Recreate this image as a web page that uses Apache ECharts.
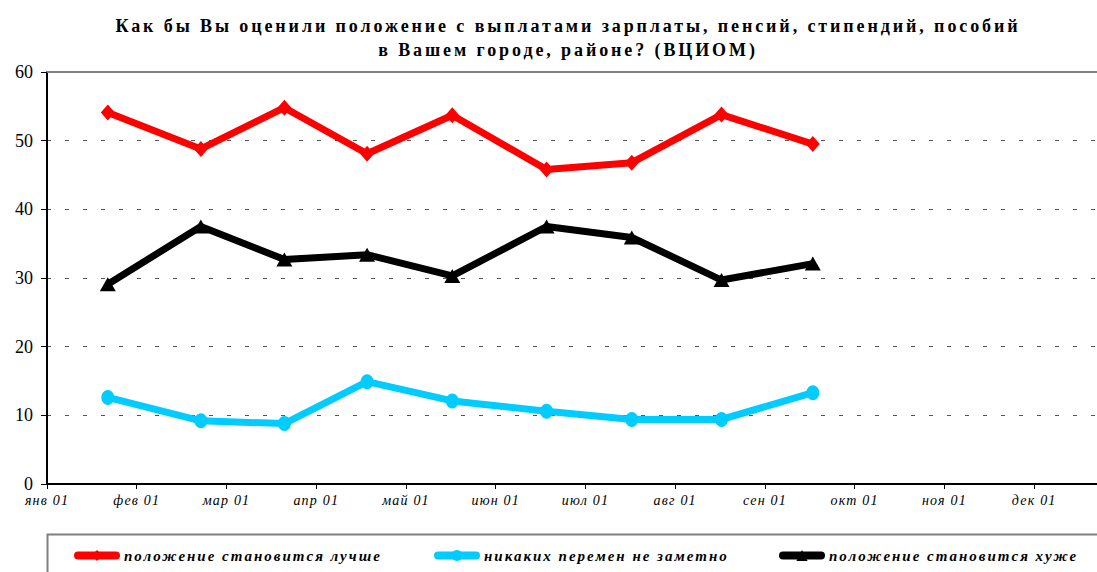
<!DOCTYPE html>
<html>
<head>
<meta charset="utf-8">
<script src="https://cdn.jsdelivr.net/npm/echarts@6/dist/echarts.min.js"></script>
<style>
html,body{margin:0;padding:0;background:#fff;}
#c{width:1097px;height:572px;}
</style>
</head>
<body>
<div id="c"></div>
<script>
// ---- data ----
const TITLE = 'Как бы Вы оценили положение с выплатами зарплаты, пенсий, стипендий, пособий\nв Вашем городе, районе? (ВЦИОМ)';
const MONTH_LABELS = ['янв 01','фев 01','мар 01','апр 01','май 01','июн 01','июл 01','авг 01','сен 01','окт 01','ноя 01','дек 01'];
const Y_TICKS = [0, 10, 20, 30, 40, 50, 60];
const SURVEY_DATES = ['2001-01-22','2001-02-21','2001-03-21','2001-04-18','2001-05-17','2001-06-18','2001-07-17','2001-08-17','2001-09-17'];
const SERIES_NAMES = ['положение становится лучше','никаких перемен не заметно','положение становится хуже'];
const BETTER = [54.1, 48.8, 54.8, 48.1, 53.7, 45.8, 46.8, 53.8, 49.5];
const NO_CHANGE = [12.6, 9.2, 8.8, 14.9, 12.1, 10.6, 9.4, 9.4, 13.3];
const WORSE = [29.1, 37.5, 32.7, 33.4, 30.3, 37.5, 35.9, 29.7, 32.1];

// date -> month-index scale (each month equal width, as on the original axis)
function monthPos(d){
  const [y,m,day] = d.split('-').map(Number);
  const dim = new Date(y, m, 0).getDate();
  return (m-1) + (day-1)/dim;
}
const X = SURVEY_DATES.map(monthPos);
const pairs = vals => vals.map((v,i)=>[X[i], v]);

const SERIF = '"Liberation Serif","Times New Roman",serif';
const chart = echarts.init(document.getElementById('c'), null, {renderer:'svg'});

const legendCommon = {
  orient:'horizontal', top:548, itemWidth:38, itemHeight:14, itemGap:10, padding:0,
  lineStyle:{width:8, cap:'round'},
  textStyle:{fontFamily:SERIF, fontSize:15, fontWeight:'bold', fontStyle:'italic', color:'#000', padding:[0,0,0,3]}
};

chart.setOption({
  animation:false,
  backgroundColor:'#fff',
  legend:[
    Object.assign({data:[SERIES_NAMES[0]], left:74}, legendCommon),
    Object.assign({data:[SERIES_NAMES[1]], left:434}, legendCommon),
    Object.assign({data:[SERIES_NAMES[2]], left:779}, legendCommon)
  ],
  graphic:[{
    type:'rect', left:45, top:532, z:-1,
    shape:{x:0,y:0,width:1100,height:100},
    style:{fill:'none', stroke:'#808080', lineWidth:2}
  },{
    type:'text', x:568, y:14, z:10,
    style:{text:TITLE, align:'center', verticalAlign:'top', fill:'#000',
      font:'bold 18px ' + SERIF, lineHeight:24}
  }],
  grid:{left:47, right:0, top:72, bottom:88, containLabel:false},
  xAxis:[{
    type:'value', min:0, max:11.7, position:'bottom',
    axisLine:{show:true, lineStyle:{color:'#000', width:2}},
    axisTick:{show:true, customValues:MONTH_LABELS.map((_,i)=>i), length:5, lineStyle:{color:'#000', width:1}},
    axisLabel:{customValues:MONTH_LABELS.map((_,i)=>i), formatter:v=>MONTH_LABELS[Math.round(v)]||'',
      fontFamily:SERIF, fontSize:14, fontStyle:'italic', color:'#000', margin:9},
    splitLine:{show:false}
  },{
    type:'value', min:0, max:11.7, position:'top',
    axisLine:{show:true, lineStyle:{color:'#808080', width:2}},
    axisTick:{show:false}, axisLabel:{show:false}, splitLine:{show:false}
  }],
  yAxis:{
    type:'value', min:Y_TICKS[0], max:Y_TICKS[Y_TICKS.length-1], interval:10,
    axisLine:{show:true, lineStyle:{color:'#000', width:2}},
    axisTick:{show:true, length:6, lineStyle:{color:'#000', width:1}},
    axisLabel:{fontFamily:SERIF, fontSize:18, color:'#000', margin:14},
    splitLine:{show:true, lineStyle:{color:'#555', width:1, type:[4,14]}}
  },
  series:[
    {name:SERIES_NAMES[0], type:'line', data:pairs(BETTER), symbol:'diamond', symbolSize:[14,16],
      lineStyle:{color:'#FF0000', width:7}, itemStyle:{color:'#FF0000'}},
    {name:SERIES_NAMES[1], type:'line', data:pairs(NO_CHANGE), symbol:'circle', symbolSize:[13,15],
      lineStyle:{color:'#00CCFF', width:7}, itemStyle:{color:'#00CCFF'}},
    {name:SERIES_NAMES[2], type:'line', data:pairs(WORSE), symbol:'triangle', symbolSize:[16,14],
      lineStyle:{color:'#000000', width:7}, itemStyle:{color:'#000000'}}
  ]
});

// letter spacing like the original (applied to the SVG text nodes)
const TITLE_LINES = TITLE.split('\n');
function patch(){
  document.querySelectorAll('#c svg text').forEach(t=>{
    const s = t.textContent;
    let ls = 0;
    if (TITLE_LINES.includes(s)) ls = 2.9;
    else if (SERIES_NAMES.includes(s)) ls = 2.0;
    else if (MONTH_LABELS.includes(s)) ls = 1.2;
    if (ls) t.style.letterSpacing = ls + 'px';
  });
}
chart.on('finished', patch);
patch();
</script>
</body>
</html>
